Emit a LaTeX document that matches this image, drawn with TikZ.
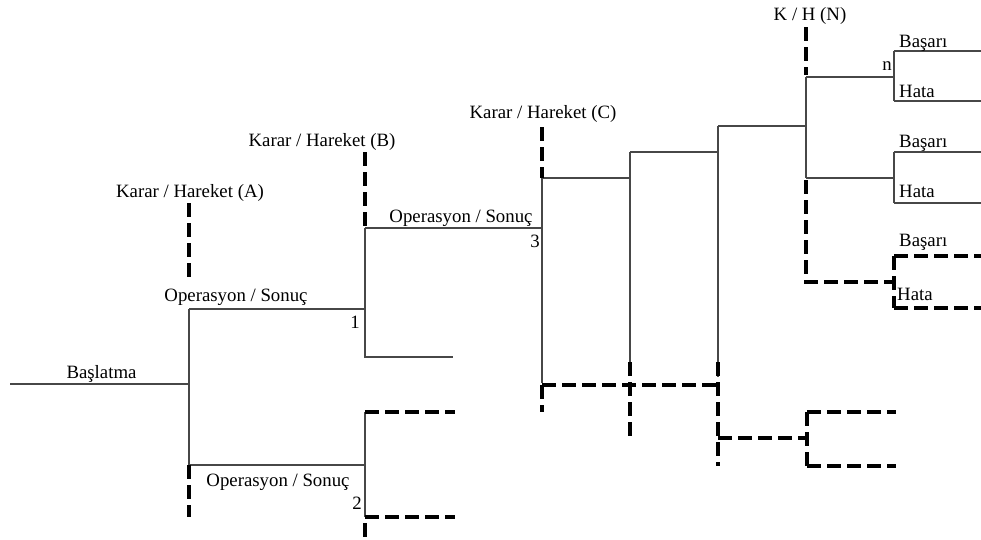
\documentclass[tikz,border=0pt]{standalone}
\usepackage{fontspec}
\setmainfont{Liberation Serif}
\begin{document}
\begin{tikzpicture}[x=1pt,y=-1pt,
  link/.style={line width=1.2pt, draw=black!72},
  alt/.style={line width=3.6pt, draw=black, dash pattern=on 14pt off 6pt},
  lbl/.style={font=\fontsize{18.8}{20}\selectfont, inner sep=0pt, anchor=base},
  lblw/.style={lbl, anchor=base west},
]
\useasboundingbox (0,0) rectangle (981,539);

% --- junction points of the tree ---
\coordinate (s0) at (10,384);
\coordinate (a)  at (189,384);
\coordinate (a1) at (189,309);
\coordinate (a2) at (189,465);
\coordinate (aT) at (189,203);
\coordinate (aTe) at (189,281);
\coordinate (a2d) at (189,517);

\coordinate (b1) at (365,309);
\coordinate (bT) at (365,152);
\coordinate (bU) at (365,228);
\coordinate (bL) at (365,357);
\coordinate (bLe) at (453,357);

\coordinate (c2) at (365,465);
\coordinate (c2u) at (365,412);
\coordinate (c2d) at (365,517);
\coordinate (c2s) at (365,523);
\coordinate (c2b) at (365,538);
\coordinate (c2ue) at (455,412);
\coordinate (c2de) at (455,517);

\coordinate (d)  at (542,228);
\coordinate (dT) at (542,127);
\coordinate (dU) at (542,178);
\coordinate (dS) at (542,383);
\coordinate (dH) at (542,385);
\coordinate (dB) at (542,412);

\coordinate (eU) at (630,178);
\coordinate (eT) at (630,152);
\coordinate (eS) at (630,362);
\coordinate (eB) at (630,437);

\coordinate (fU) at (718,152);
\coordinate (fT) at (718,126);
\coordinate (fS) at (718,377);
\coordinate (fD) at (718,362);
\coordinate (fH) at (718,385);
\coordinate (fM) at (718,438);
\coordinate (fB) at (718,466);

\coordinate (gM) at (807,438);
\coordinate (gU) at (807,412);
\coordinate (gB) at (807,466);
\coordinate (gUe) at (896,412);
\coordinate (gBe) at (896,466);

\coordinate (hT) at (806,126);
\coordinate (hK) at (806,27);
\coordinate (hKe) at (806,75);
\coordinate (h1) at (806,77);
\coordinate (h2) at (806,178);
\coordinate (h3s) at (806,180);
\coordinate (h3) at (806,282);

\coordinate (k1) at (894,77);
\coordinate (k1u) at (894,51);
\coordinate (k1d) at (894,101);
\coordinate (k2) at (894,178);
\coordinate (k2u) at (894,152);
\coordinate (k2d) at (894,203);
\coordinate (k3) at (894,282);
\coordinate (k3u) at (894,256);
\coordinate (k3d) at (894,308);

\coordinate (r1u) at (981,51);
\coordinate (r1d) at (981,101);
\coordinate (r2u) at (981,152);
\coordinate (r2d) at (981,203);
\coordinate (r3u) at (981,256);
\coordinate (r3d) at (981,308);

% --- solid branches ---
\draw[link] (s0) -- (a);
\draw[link] (a1) -- (a2);
\draw[link] (a1) -- (b1);
\draw[link] (a2) -- (c2);
\draw[link] (bU) -- (bL) -- (bLe);
\draw[link] (c2u) -- (c2d);
\draw[link] (bU) -- (d);
\draw[link] (dU) -- (dS);
\draw[link] (dU) -- (eU);
\draw[link] (eT) -- (eS);
\draw[link] (eT) -- (fU);
\draw[link] (fT) -- (fS);
\draw[link] (fT) -- (hT);
\draw[link] (h1) -- (h2);
\draw[link] (h1) -- (k1);
\draw[link] (k1u) -- (k1d);
\draw[link] (k1u) -- (r1u);
\draw[link] (k1d) -- (r1d);
\draw[link] (h2) -- (k2);
\draw[link] (k2u) -- (k2d);
\draw[link] (k2u) -- (r2u);
\draw[link] (k2d) -- (r2d);

% --- dashed branches ---
\draw[alt] (aT) -- (aTe);
\draw[alt] (a2) -- (a2d);
\draw[alt] (bT) -- (bU);
\draw[alt] (c2u) -- (c2ue);
\draw[alt] (c2d) -- (c2de);
\draw[alt] (c2s) -- (c2b);
\draw[alt] (dT) -- (dU);
\draw[alt] (dH) -- (dB);
\draw[alt] (dH) -- (fH);
\draw[alt] (eS) -- (eB);
\draw[alt] (fD) -- (fB);
\draw[alt] (fM) -- (gM);
\draw[alt] (gU) -- (gB);
\draw[alt] (gU) -- (gUe);
\draw[alt] (gB) -- (gBe);
\draw[alt] (hK) -- (hKe);
\draw[alt] (h3s) -- (h3) -- (k3);
\draw[alt] (k3u) -- (k3d);
\draw[alt] (k3u) -- (r3u);
\draw[alt] (k3d) -- (r3d);

% --- labels ---
\node[lbl] (tA) at (190,197) {Karar / Hareket (A)};
\node[lbl] (o1) at (236,301) {Operasyon / Sonuç};
\node[lbl] (st) at (101.5,378) {Başlatma};
\node[lbl] (tB) at (322,146) {Karar / Hareket (B)};
\node[lbl] (o3) at (461,222) {Operasyon / Sonuç};
\node[lbl] (n1) at (355,328) {1};
\node[lbl] (o2) at (278,486) {Operasyon / Sonuç};
\node[lbl] (n2) at (357,509) {2};
\node[lbl] (tC) at (543,118) {Karar / Hareket (C)};
\node[lbl] (n3) at (535,247) {3};
\node[lbl] (tN) at (810,20) {K / H (N)};
\node[lbl] (nn) at (887,70) {n};
\node[lblw] (s1) at (899,47) {Başarı};
\node[lblw] (f1) at (899,97) {Hata};
\node[lblw] (s2) at (899,147) {Başarı};
\node[lblw] (f2) at (899,197) {Hata};
\node[lblw] (s3) at (899,246) {Başarı};
\node[lblw] (f3) at (897,300) {Hata};
\end{tikzpicture}
\end{document}
